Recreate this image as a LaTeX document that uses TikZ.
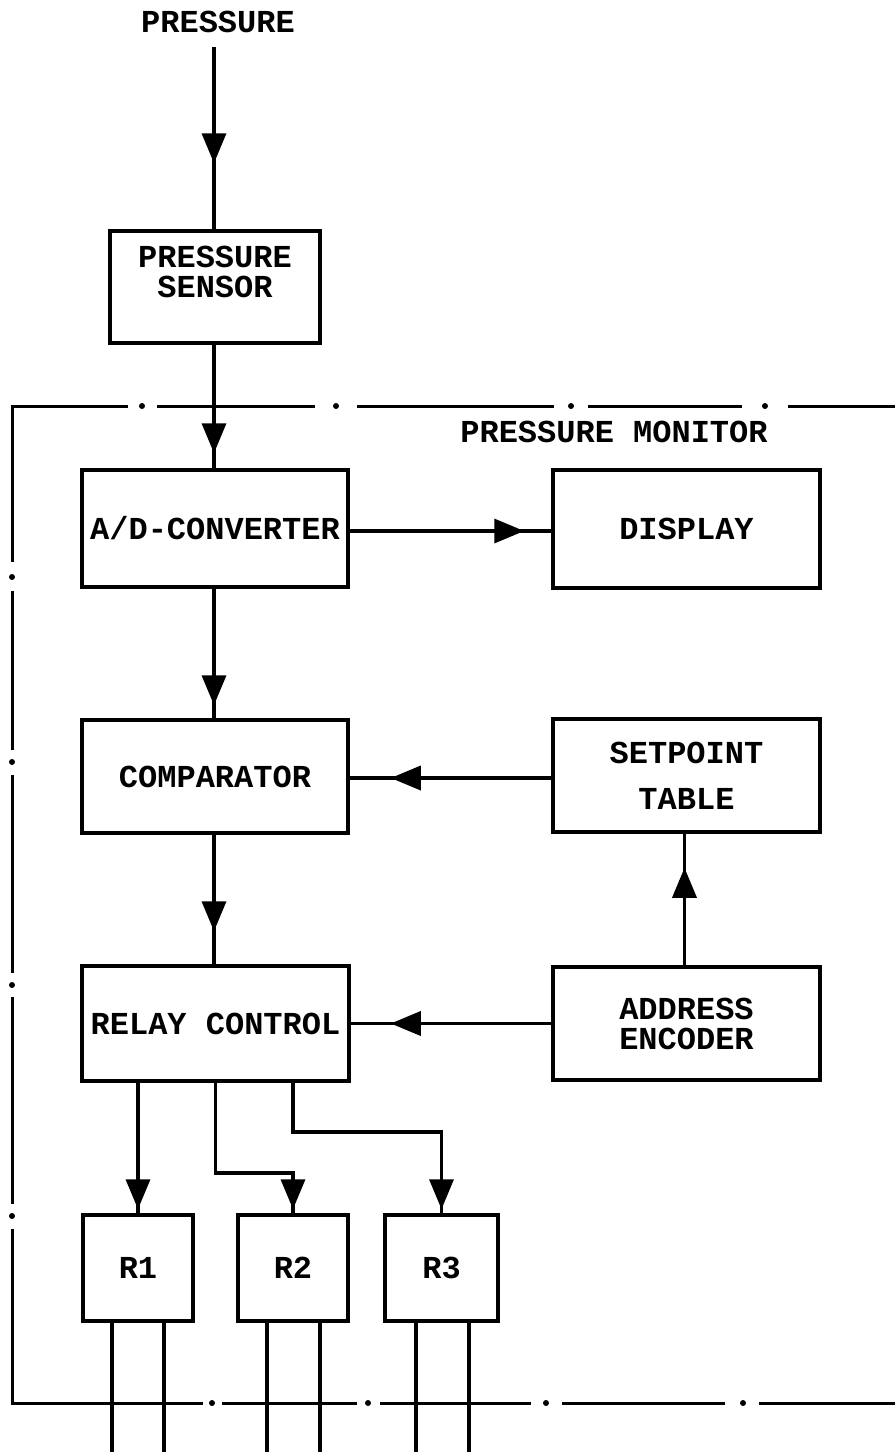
\documentclass[tikz,border=0pt]{standalone}
\usepackage{fontspec}
\newfontfamily\monolbl{Liberation Mono}
\newcommand\lblfont{\monolbl\bfseries\fontsize{32}{30}\selectfont}
\usetikzlibrary{arrows.meta,decorations.markings,calc}
\tikzset{
  box/.style={draw, line width=3.5pt, inner sep=0pt, align=center, font=\lblfont},
  lbl/.style={inner sep=0pt, font=\lblfont},
  conn/.style={line width=3.5pt},
  midarrow/.style={conn, postaction={decorate}, decoration={markings,
      mark=at position #1 with {\arrow{Triangle[length=30pt,width=24pt]}}}},
  bound/.style={line width=3pt},
  bdot/.style={fill, circle, inner sep=0pt, minimum size=6pt},
}
\begin{document}
\begin{tikzpicture}[x=1pt,y=-1pt]
\useasboundingbox (0,0) rectangle (895,1452);

% labels
\node[lbl] (ptext) at (218,22) {PRESSURE};
\coordinate (pin) at (214,47);
\node[lbl] (montext) at (614,432) {PRESSURE MONITOR};

% boxes
\node[box, minimum width=210pt, minimum height=112pt] (sensor) at (215,287) {PRESSURE\\SENSOR\\\mbox{}};
\node[box, minimum width=266pt, minimum height=117pt] (ad) at (215,528.5) {A/D-CONVERTER};
\node[box, minimum width=267pt, minimum height=118pt] (disp) at (686.5,529) {DISPLAY};
\node[box, minimum width=266pt, minimum height=113pt] (comp) at (215,776.5) {COMPARATOR};
\node[box, minimum width=267pt, minimum height=113pt] (setp) at (686.5,775.5) {SETPOINT\\[16pt]TABLE};
\node[box, minimum width=267pt, minimum height=115pt] (relay) at (215.5,1023.5) {RELAY CONTROL};
\node[box, minimum width=267pt, minimum height=113pt] (addr) at (686.5,1023.5) {ADDRESS\\ENCODER};
\node[box, minimum width=110pt, minimum height=106pt] (R1) at (138,1268) {R1};
\node[box, minimum width=110pt, minimum height=106pt] (R2) at (293,1268) {R2};
\node[box, minimum width=113pt, minimum height=106pt] (R3) at (441.5,1268) {R3};

% connectors
\draw[midarrow=-66pt] (pin) -- (sensor.north -| pin);
\draw[midarrow=-15pt] (sensor.south -| pin) -- (ad.north -| pin);
\draw[midarrow=-27pt] ($(ad.east)+(0,2.5)$) -- ($(ad.east -| disp.west)+(0,2.5)$);
\draw[midarrow=-13pt] (ad.south -| pin) -- (comp.north -| pin);
\draw[midarrow=-41pt] ($(setp.west)+(0,2.5)$) -- ($(setp.west -| comp.east)+(0,2.5)$);
\draw[midarrow=-33pt] (comp.south -| pin) -- (relay.north -| pin);
\draw[midarrow=-40pt] (addr.west) -- (addr.west -| relay.east);
\draw[midarrow=-34pt] ($(addr.north)+(-2,0)$) -- ($(setp.south)+(-2,0)$);
\draw[midarrow=-4pt] (relay.south -| R1.north) -- (R1.north);
\draw[midarrow=-4pt] (relay.south) -- ++(0,90) -| (R2.north);
\draw[midarrow=-4pt] (relay.south -| R2.north) -- ++(0,49) -| (R3.north);

% relay output leads
\draw[conn] ($(R1.south)+(-26,0)$) -- ++(0,130);
\draw[conn] ($(R1.south)+(26,0)$) -- ++(0,130);
\draw[conn] ($(R2.south)+(-26,0)$) -- ++(0,130);
\draw[conn] ($(R2.south)+(27,0)$) -- ++(0,130);
\draw[conn] ($(R3.south)+(-25.5,0)$) -- ++(0,130);
\draw[conn] ($(R3.south)+(27.5,0)$) -- ++(0,130);

% dash-dot boundary of the pressure monitor
\draw[bound] (128,406) -- (12,406) -- (12,562);
\draw[bound] (157,406) -- (315,406);
\draw[bound] (357,406) -- (554,406);
\draw[bound] (588,406) -- (742,406);
\draw[bound] (788,406) -- (895,406);
\node[bdot] (t1) at (142,406) {};
\node[bdot] (t2) at (336,406) {};
\node[bdot] (t3) at (571,406) {};
\node[bdot] (t4) at (765,406) {};
\draw[bound] (12,591) -- (12,750);
\draw[bound] (12,775) -- (12,973);
\draw[bound] (12,997) -- (12,1204);
\draw[bound] (12,1229) -- (12,1403) -- (203,1403);
\node[bdot] (l1) at (12,577) {};
\node[bdot] (l2) at (12,762) {};
\node[bdot] (l3) at (12,985) {};
\node[bdot] (l4) at (12,1216) {};
\draw[bound] (222,1403) -- (357,1403);
\draw[bound] (380,1403) -- (531,1403);
\draw[bound] (562,1403) -- (725,1403);
\draw[bound] (759,1403) -- (895,1403);
\node[bdot] (b1) at (212,1403) {};
\node[bdot] (b2) at (368,1403) {};
\node[bdot] (b3) at (546,1403) {};
\node[bdot] (b4) at (743,1403) {};
\end{tikzpicture}
\end{document}
